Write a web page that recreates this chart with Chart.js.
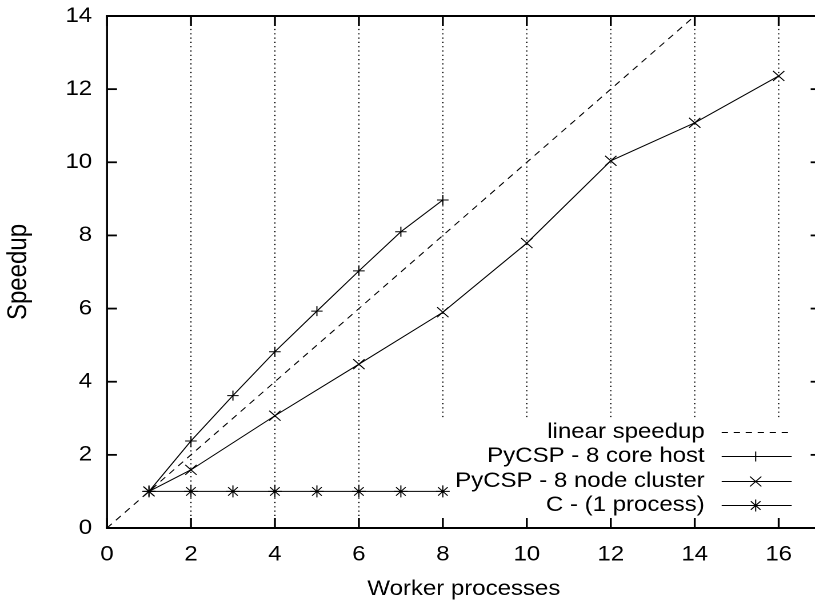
<!DOCTYPE html>
<html><head><meta charset="utf-8">
<script src="https://cdn.jsdelivr.net/npm/chart.js@4/dist/chart.umd.min.js"></script>
<style>
html,body{margin:0;padding:0;overflow:hidden;background:#fff;width:815px;height:603px;}
#wrap{position:absolute;left:0;top:0;width:726px;height:603px;transform:scaleX(1.143);transform-origin:0 0;}
canvas{display:block;}
</style></head><body>
<div id="wrap"><canvas id="c" width="726" height="603"></canvas></div>
<script>
// ---- data ----
const linearX = [0, 14];
const linearY = [0, 14];
const hostWorkers = [1, 2, 3, 4, 5, 6, 7, 8];
const hostSpeedup = [1.0, 2.38, 3.62, 4.82, 5.93, 7.03, 8.1, 8.97];
const clusterWorkers = [1, 2, 4, 6, 8, 10, 12, 14, 16];
const clusterSpeedup = [1.0, 1.59, 3.07, 4.48, 5.9, 7.79, 10.04, 11.08, 12.36];
const cWorkers = [1, 2, 3, 4, 5, 6, 7, 8];
const cSpeedup = [1, 1, 1, 1, 1, 1, 1, 1];
const xTickValues = [0, 2, 4, 6, 8, 10, 12, 14, 16];
const yTickValues = [0, 2, 4, 6, 8, 10, 12, 14];
const gridXValues = [2, 4, 6, 8, 10, 12, 14, 16];
const seriesLabels = ['linear speedup', 'PyCSP - 8 core host', 'PyCSP - 8 node cluster', 'C - (1 process)'];
const seriesStyles = [null, 'cross', 'crossRot', 'star'];
const seriesRadius = [0, 5, 7, 6];

const SX = 1.143;
const FONT = '"Liberation Sans", Arial, Helvetica, sans-serif';
const pts = (xs, ys) => xs.map((v, i) => ({x: v, y: ys[i]}));

const framePlugin = {
  id: 'frame',
  beforeDatasetsDraw(chart) {
    const {ctx, chartArea: a, scales: {x}} = chart;
    ctx.save();
    ctx.strokeStyle = '#000';
    ctx.lineWidth = 1.1;
    ctx.setLineDash([1.2, 3.1]);
    gridXValues.forEach(v => {
      const px = x.getPixelForValue(v);
      ctx.beginPath(); ctx.moveTo(px, a.top); ctx.lineTo(px, a.bottom); ctx.stroke();
    });
    ctx.setLineDash([]);
    // key background (opaque, hides grid)
    const keyLeft = a.right - 381 / SX;
    const keyTop = a.bottom - 109;
    ctx.fillStyle = '#fff';
    ctx.fillRect(keyLeft, keyTop, a.right - keyLeft, a.bottom - keyTop);
    ctx.restore();
  },
  afterDatasetsDraw(chart) {
    const {ctx, chartArea: a, scales: {x, y}} = chart;
    ctx.save();
    ctx.strokeStyle = '#000';
    // ticks (inward, mirrored)
    ctx.lineWidth = 1.7;
    xTickValues.forEach(v => {
      const px = x.getPixelForValue(v);
      ctx.beginPath(); ctx.moveTo(px, a.bottom); ctx.lineTo(px, a.bottom - 10); ctx.stroke();
      ctx.beginPath(); ctx.moveTo(px, a.top); ctx.lineTo(px, a.top + 10); ctx.stroke();
    });
    ctx.lineWidth = 1.8;
    yTickValues.forEach(v => {
      const py = y.getPixelForValue(v);
      ctx.beginPath(); ctx.moveTo(a.left, py); ctx.lineTo(a.left + 10 / SX, py); ctx.stroke();
      ctx.beginPath(); ctx.moveTo(a.right, py); ctx.lineTo(a.right - 10 / SX, py); ctx.stroke();
    });
    // border
    ctx.lineWidth = 2;
    ctx.beginPath(); ctx.moveTo(a.left - 1, a.top); ctx.lineTo(a.right + 1, a.top); ctx.stroke();
    ctx.beginPath(); ctx.moveTo(a.left - 1, a.bottom); ctx.lineTo(a.right + 1, a.bottom); ctx.stroke();
    ctx.lineWidth = 1.75;
    ctx.beginPath(); ctx.moveTo(a.left, a.top); ctx.lineTo(a.left, a.bottom); ctx.stroke();
    ctx.beginPath(); ctx.moveTo(a.right, a.top); ctx.lineTo(a.right, a.bottom); ctx.stroke();

    // key
    const textRight = a.right - 116 / SX;
    const lineL = a.right - 99 / SX;
    const lineR = a.right - 29 / SX;
    const markX = a.right - 65 / SX;
    const rows = [432, 456, 481, 505];
    ctx.font = '21px ' + FONT;
    ctx.fillStyle = '#000';
    ctx.textAlign = 'right';
    ctx.textBaseline = 'middle';
    seriesLabels.forEach((lab, i) => {
      const ry = rows[i];
      ctx.fillText(lab, textRight, ry);
      ctx.lineWidth = 1;
      ctx.setLineDash(i === 0 ? [5.5, 5] : []);
      ctx.beginPath(); ctx.moveTo(lineL, ry + 0.5); ctx.lineTo(lineR, ry + 0.5); ctx.stroke();
      ctx.setLineDash([]);
      if (seriesStyles[i]) {
        Chart.helpers.drawPoint(ctx, {pointStyle: seriesStyles[i], radius: seriesRadius[i], rotation: 0, borderWidth: 1}, markX, ry + 0.5);
      }
    });
    ctx.restore();
  }
};

const common = {borderColor: '#000', backgroundColor: '#000', pointBorderColor: '#000', pointBackgroundColor: 'rgba(0,0,0,0)', borderWidth: 1, pointBorderWidth: 1, showLine: true, fill: false, tension: 0};

new Chart(document.getElementById('c'), {
  type: 'scatter',
  data: {
    datasets: [
      Object.assign({}, common, {label: seriesLabels[0], data: pts(linearX, linearY), borderDash: [6, 5], pointRadius: 0}),
      Object.assign({}, common, {label: seriesLabels[1], data: pts(hostWorkers, hostSpeedup), pointStyle: seriesStyles[1], pointRadius: seriesRadius[1]}),
      Object.assign({}, common, {label: seriesLabels[2], data: pts(clusterWorkers, clusterSpeedup), pointStyle: seriesStyles[2], pointRadius: seriesRadius[2]}),
      Object.assign({}, common, {label: seriesLabels[3], data: pts(cWorkers, cSpeedup), pointStyle: seriesStyles[3], pointRadius: seriesRadius[3]})
    ]
  },
  options: {
    responsive: false,
    animation: false,
    devicePixelRatio: 2,
    events: [],
    layout: {padding: {top: 16, right: 7.7, left: 0, bottom: 0}},
    plugins: {legend: {display: false}, tooltip: {enabled: false}},
    scales: {
      x: {
        type: 'linear', min: 0, max: 17,
        afterFit(s) { s.height = 75; s.paddingLeft = 0; s.paddingRight = 0; },
        grid: {display: false, drawTicks: false},
        border: {display: false},
        ticks: {stepSize: 2, includeBounds: false, color: '#000', font: {family: FONT, size: 21}, padding: 14, maxRotation: 0, autoSkip: false},
        title: {display: true, text: 'Worker processes', color: '#000', font: {family: FONT, size: 21}, padding: {top: 0, bottom: 1}}
      },
      y: {
        type: 'linear', min: 0, max: 14,
        afterFit(s) { s.width = 93.6; s.paddingTop = 0; s.paddingBottom = 0; },
        grid: {display: false, drawTicks: false},
        border: {display: false},
        ticks: {stepSize: 2, color: '#000', font: {family: FONT, size: 21}, padding: 13, autoSkip: false},
        title: {display: true, text: 'Speedup', color: '#000', font: {family: FONT, size: 24}, padding: {top: 2, bottom: 0}}
      }
    }
  },
  plugins: [framePlugin]
});
</script>
</body></html>
